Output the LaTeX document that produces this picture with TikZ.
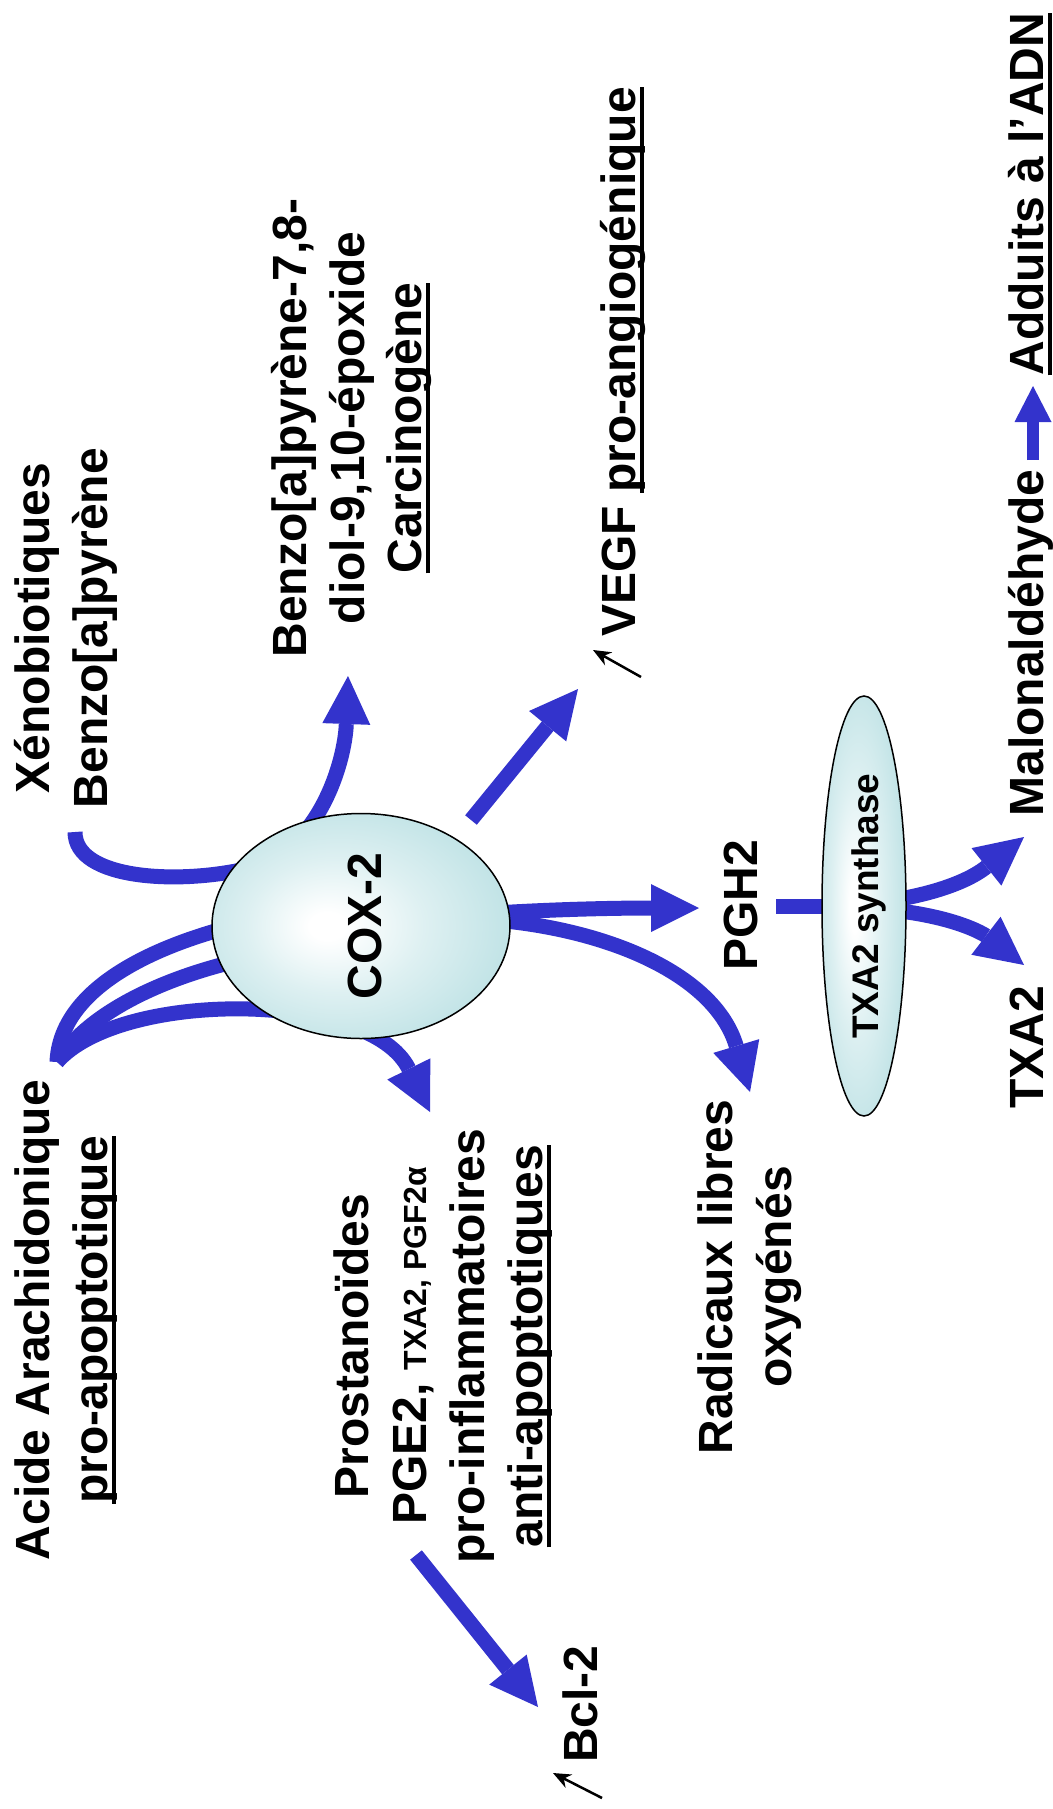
\documentclass[tikz,border=0pt]{standalone}
\usepackage{fontspec}
\setmainfont{Liberation Sans}
\usetikzlibrary{arrows.meta,shapes.geometric}

\definecolor{flow}{RGB}{51,51,204}
\definecolor{cell}{RGB}{188,225,228}
\colorlet{cellmid}{white!50!cell}
% soft glow, slightly off-centre towards the left
\pgfdeclareradialshading{cellglow}{\pgfpoint{-6bp}{0bp}}{%
  color(0bp)=(white); color(3bp)=(white); color(15bp)=(cellmid);
  color(30bp)=(cell); color(50bp)=(cell)}

% underline that cuts through the descenders
\newcommand\ulbar[1]{\setbox0=\hbox{#1}\rlap{\copy0}\rule[-8.5pt]{\wd0}{4pt}}

\tikzset{
  lab/.style={font=\fontsize{48}{58}\selectfont\bfseries, inner sep=0pt,
              anchor=base, rotate=90},
  flowline/.style={draw=flow, line width=15pt},
  flowarrow/.style={flowline,
              -{Triangle[length=48pt,width=48pt,line width=0pt]}},
  cellshape/.style={ellipse, draw=black, line width=1.5pt, shade,
              shading=cellglow, inner sep=0pt},
  tinyarrow/.style={draw=black, line width=2.5pt,
              -{Stealth[length=18pt,width=15pt,line width=0pt]}}
}

\begin{document}
\begin{tikzpicture}[x=1pt,y=-1pt]
\useasboundingbox (0,0) rectangle (1052,1809);

% ---- end points of the connectors ----
\coordinate (acideroot) at (57,1062);
\coordinate (xenotail)  at (75,832);
\coordinate (benzotip)  at (348,676);
\coordinate (prosttip)  at (430,1112);
\coordinate (coxA)      at (250,922);
\coordinate (coxB)      at (250,958);
\coordinate (vegftail)  at (471,820);
\coordinate (vegftip)   at (578,689);
\coordinate (coxright)  at (495,913);
\coordinate (coxright2) at (495,920);
\coordinate (pghtip)    at (699,908);
\coordinate (radtip)    at (750,1092);
\coordinate (bcltail)   at (416,1555);
\coordinate (bcltip)    at (538,1707);
\coordinate (pghtail)   at (776,906);
\coordinate (synthmid)  at (864,906);
\coordinate (synthup)   at (864,904);
\coordinate (synthdown) at (864,908);
\coordinate (malontip)  at (1024,837);
\coordinate (txatip)    at (1024,965);
\coordinate (maltail)   at (1033,460);
\coordinate (adntip)    at (1033,386);
\coordinate (upAtail)   at (641,677);
\coordinate (upAtip)    at (593,650);
\coordinate (upBtail)   at (602,1798);
\coordinate (upBtip)    at (553,1773);

% ---- blue connectors (drawn under the enzymes) ----
\draw[flowline]  (acideroot) .. controls (60,990) and (150,945) .. (coxA);
\draw[flowline]  (acideroot) .. controls (90,1010) and (170,975) .. (coxB);
\draw[flowarrow] (acideroot) .. controls (120,990) and (370,990) .. (prosttip);
\draw[flowarrow] (xenotail) .. controls (75,880) and (180,885) .. (250,868)
                 .. controls (320,850) and (345,760) .. (benzotip);
\draw[flowarrow] (vegftail) -- (vegftip);
\draw[flowarrow] (coxright) .. controls (560,909) and (620,908) .. (pghtip);
\draw[flowarrow] (coxright2) .. controls (610,930) and (715,975) .. (radtip);
\draw[flowarrow] (bcltail) -- (bcltip);
\draw[flowline]  (pghtail) -- (synthmid);
\draw[flowarrow] (synthup) .. controls (950,895) and (980,872) .. (malontip);
\draw[flowarrow] (synthdown) .. controls (950,912) and (985,935) .. (txatip);
\draw[draw=flow, line width=12pt,
      -{Triangle[length=36pt,width=37pt,line width=0pt]}] (maltail) -- (adntip);

% ---- small "increase" arrows ----
\draw[tinyarrow] (upAtail) -- (upAtip);
\draw[tinyarrow] (upBtail) -- (upBtip);

% ---- enzymes ----
\node[cellshape, minimum width=298pt, minimum height=225pt] (cox) at (361,926) {};
\node[lab] (coxlabel) at (381,926) {COX-2};
\node[cellshape, minimum width=84pt, minimum height=420pt] (synth) at (864,906) {};
\node[lab, font=\fontsize{37}{44}\selectfont\bfseries] (synthlabel) at (878,906) {TXA2 synthase};

% ---- labels ----
\node[lab] (acide)  at (49,1320)  {Acide Arachidonique};
\node[lab] (acide2) at (107,1320) {\ulbar{pro-apoptotique}};
\node[lab] (xeno)   at (49,628)   {Xénobiotiques};
\node[lab] (xeno2)  at (107,628)  {Benzo[a]pyrène};
\node[lab] (bp1)    at (306,428)  {Benzo[a]pyrène-7,8-};
\node[lab] (bp2)    at (364,428)  {diol-9,10-époxide};
\node[lab] (bp3)    at (421,428)  {\ulbar{Carcinogène}};
\node[lab] (vegf)   at (635,362)  {VEGF \ulbar{pro-angiogénique}};
\node[lab] (prost1) at (368,1346) {Prostanoïdes};
\node[lab] (prost2) at (426,1346) {PGE2, {\fontsize{32}{38}\selectfont TXA2, PGF2α}};
\node[lab] (prost3) at (484,1346) {pro-inflammatoires};
\node[lab] (prost4) at (542,1346) {\ulbar{anti-apoptotiques}};
\node[lab] (bcl)    at (597,1704) {Bcl-2};
\node[lab] (rad1)   at (732,1277) {Radicaux libres};
\node[lab] (rad2)   at (791,1277) {oxygénés};
\node[lab] (pgh)    at (757,905)  {PGH2};
\node[lab] (malon)  at (1043,643) {Malonaldéhyde};
\node[lab] (adn)    at (1043,194) {\ulbar{Adduits à l’ADN}};
\node[lab] (txa)    at (1043,1047) {TXA2};
\end{tikzpicture}
\end{document}
